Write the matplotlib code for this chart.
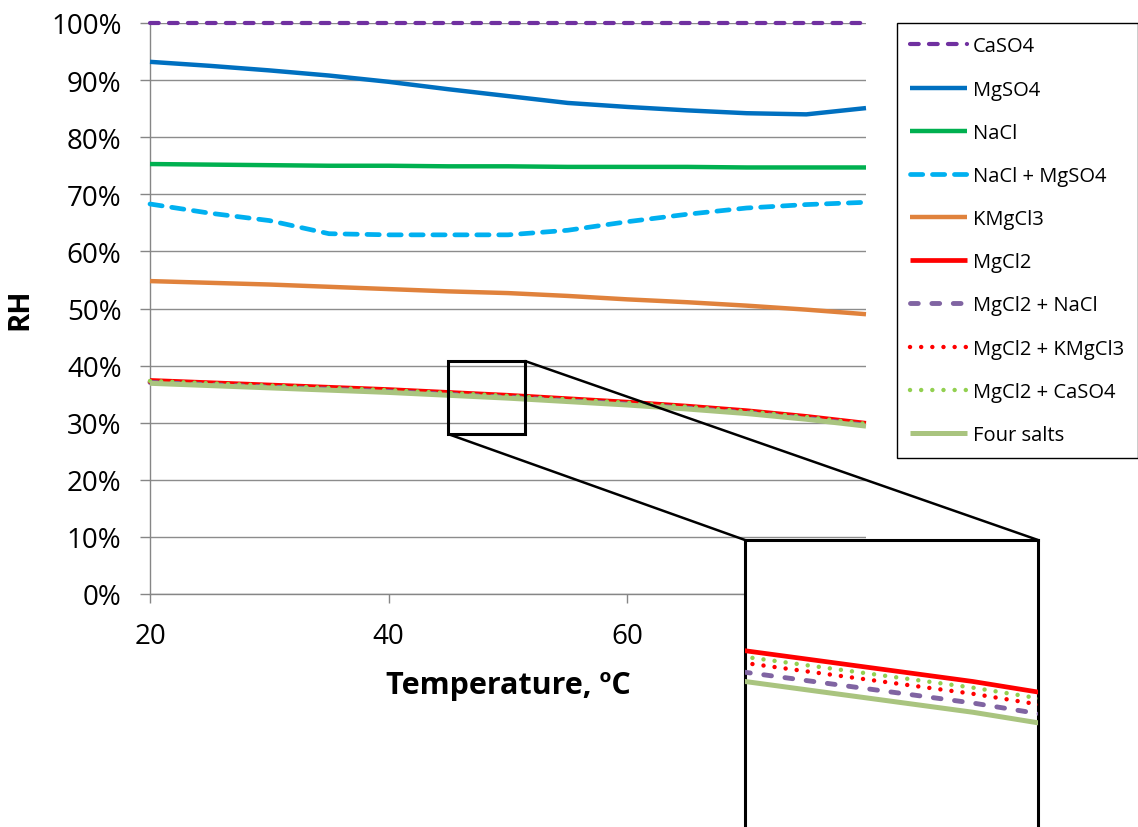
import matplotlib
matplotlib.use("Agg")
import matplotlib.pyplot as plt
from matplotlib.patches import Rectangle, ConnectionPatch
from matplotlib.ticker import FuncFormatter

plt.rcParams['font.family'] = ['Open Sans', 'DejaVu Sans']

# temperature, degC
temp = [20, 25, 30, 35, 40, 45, 50, 55, 60, 65, 70, 75, 80]

# relative humidity, %
caso4 = [100, 100, 100, 100, 100, 100, 100, 100, 100, 100, 100, 100, 100]
mgso4 = [93.2, 92.5, 91.7, 90.8, 89.7, 88.4, 87.2, 86.0, 85.3, 84.7, 84.2, 84.0, 85.1]
nacl = [75.3, 75.2, 75.1, 75.0, 75.0, 74.9, 74.9, 74.8, 74.8, 74.8, 74.7, 74.7, 74.7]
nacl_mgso4 = [68.3, 66.7, 65.4, 63.1, 62.9, 62.9, 62.9, 63.7, 65.2, 66.5, 67.6, 68.2, 68.6]
kmgcl3 = [54.8, 54.5, 54.2, 53.8, 53.4, 53.0, 52.7, 52.2, 51.6, 51.1, 50.5, 49.8, 49.0]
mgcl2 = [37.4, 37.0, 36.6, 36.2, 35.8, 35.3, 34.8, 34.2, 33.6, 32.9, 32.1, 31.1, 29.9]
mgcl2_nacl = [37.05, 36.65, 36.25, 35.85, 35.45, 34.95, 34.45, 33.85, 33.25, 32.55, 31.75, 30.75, 29.55]
mgcl2_kmgcl3 = [37.2, 36.8, 36.4, 36.0, 35.6, 35.1, 34.6, 34.0, 33.4, 32.7, 31.9, 30.9, 29.7]
mgcl2_caso4 = [37.3, 36.9, 36.5, 36.1, 35.7, 35.2, 34.7, 34.1, 33.5, 32.8, 32.0, 31.0, 29.8]
four_salts = [36.9, 36.5, 36.1, 35.7, 35.3, 34.8, 34.3, 33.7, 33.1, 32.4, 31.6, 30.6, 29.4]

labels = ["CaSO4", "MgSO4", "NaCl", "NaCl + MgSO4", "KMgCl3", "MgCl2",
          "MgCl2 + NaCl", "MgCl2 + KMgCl3", "MgCl2 + CaSO4", "Four salts"]
series = [caso4, mgso4, nacl, nacl_mgso4, kmgcl3, mgcl2,
          mgcl2_nacl, mgcl2_kmgcl3, mgcl2_caso4, four_salts]

# line styles (color, linewidth, dashes or None)
styles = [
    ("#7030A0", 3.0, (2.1, 2.45)),
    ("#0070C0", 3.2, None),
    ("#00B050", 3.2, None),
    ("#00B0F0", 3.4, (2.6, 2.05)),
    ("#E0823C", 3.2, None),
    ("#FF0000", 3.4, None),
    ("#8064A2", 3.5, (1.6, 2.8)),
    ("#FF0000", 3.2, (0.01, 2.5)),
    ("#92D050", 3.2, (0.01, 2.5)),
    ("#A9C47F", 3.6, None),
]

def draw(ax, clip=True):
    lines = []
    for i in range(len(series)):
        color, lw, dashes = styles[i]
        ln, = ax.plot(temp, series[i], color=color, lw=lw, label=labels[i],
                      solid_capstyle="butt", dash_capstyle="round", clip_on=clip,
                      zorder=3 + i * 0.1)
        if dashes is not None:
            ln.set_dashes(dashes)
        lines.append(ln)
    return lines

fig = plt.figure(figsize=(11.38, 8.28), dpi=100)
ax = fig.add_axes([150/1138, 1 - 595/828, 716/1138, 571/828])

lines = draw(ax, clip=False)

ax.set_xlim(20, 80)
ax.set_ylim(0, 100)
ax.set_xticks([20, 40, 60, 80])
ax.set_yticks(range(0, 101, 10))
ax.yaxis.set_major_formatter(FuncFormatter(lambda v, p: "%d%%" % v))
ax.grid(axis="y", color="#8C8C8C", lw=1.0)
ax.set_axisbelow(True)
for s in ["top", "right"]:
    ax.spines[s].set_visible(False)
for s in ["left", "bottom"]:
    ax.spines[s].set_color("#868686")
    ax.spines[s].set_linewidth(1.0)
ax.tick_params(axis="y", length=7.5, width=1.0, color="#868686", pad=13, labelsize=20)
ax.tick_params(axis="x", length=6.5, width=1.0, color="#868686", pad=13.5, labelsize=20)

ax.set_ylabel("RH", fontsize=21, fontweight="bold", va="center")
ax.yaxis.set_label_coords(-0.1816, 0.5)
ax.set_xlabel("Temperature, ºC", fontsize=22, fontweight="bold")
ax.xaxis.set_label_coords(0.5, -0.159)
ax.xaxis.label.set_va("center")

leg = fig.legend(handles=lines, loc="upper left", bbox_to_anchor=(897/1138, 1 - 24/828),
                 borderaxespad=0, fontsize=14.5, handlelength=2.8, handletextpad=0.3,
                 labelspacing=1.15, borderpad=0.67, fancybox=False, edgecolor="black",
                 framealpha=1)
leg.get_frame().set_linewidth(1.0)

# zoom rectangle on main chart
x0, x1, y0, y1 = 45, 51.43, 28.0, 40.8
ax.add_patch(Rectangle((x0, y0), x1 - x0, y1 - y0, fill=False, ec="black", lw=2.2,
                       zorder=10, clip_on=False))

# inset
axins = fig.add_axes([745/1138, -0.01, 293/1138, (828 - 541)/828 + 0.01])
draw(axins)
axins.set_xlim(x0, x1)
axins.set_ylim(32.3, 37.1)
axins.set_xticks([])
axins.set_yticks([])
for s in axins.spines.values():
    s.set_linewidth(2.2)
    s.set_color("black")

c1 = ConnectionPatch(xyA=(x0, y0), coordsA=ax.transData, xyB=(0, 1), coordsB=axins.transAxes,
                     color="black", lw=1.8)
c2 = ConnectionPatch(xyA=(x1, y1), coordsA=ax.transData, xyB=(1, 1), coordsB=axins.transAxes,
                     color="black", lw=1.8)
fig.add_artist(c1)
fig.add_artist(c2)

fig.savefig("out.png", dpi=100)
